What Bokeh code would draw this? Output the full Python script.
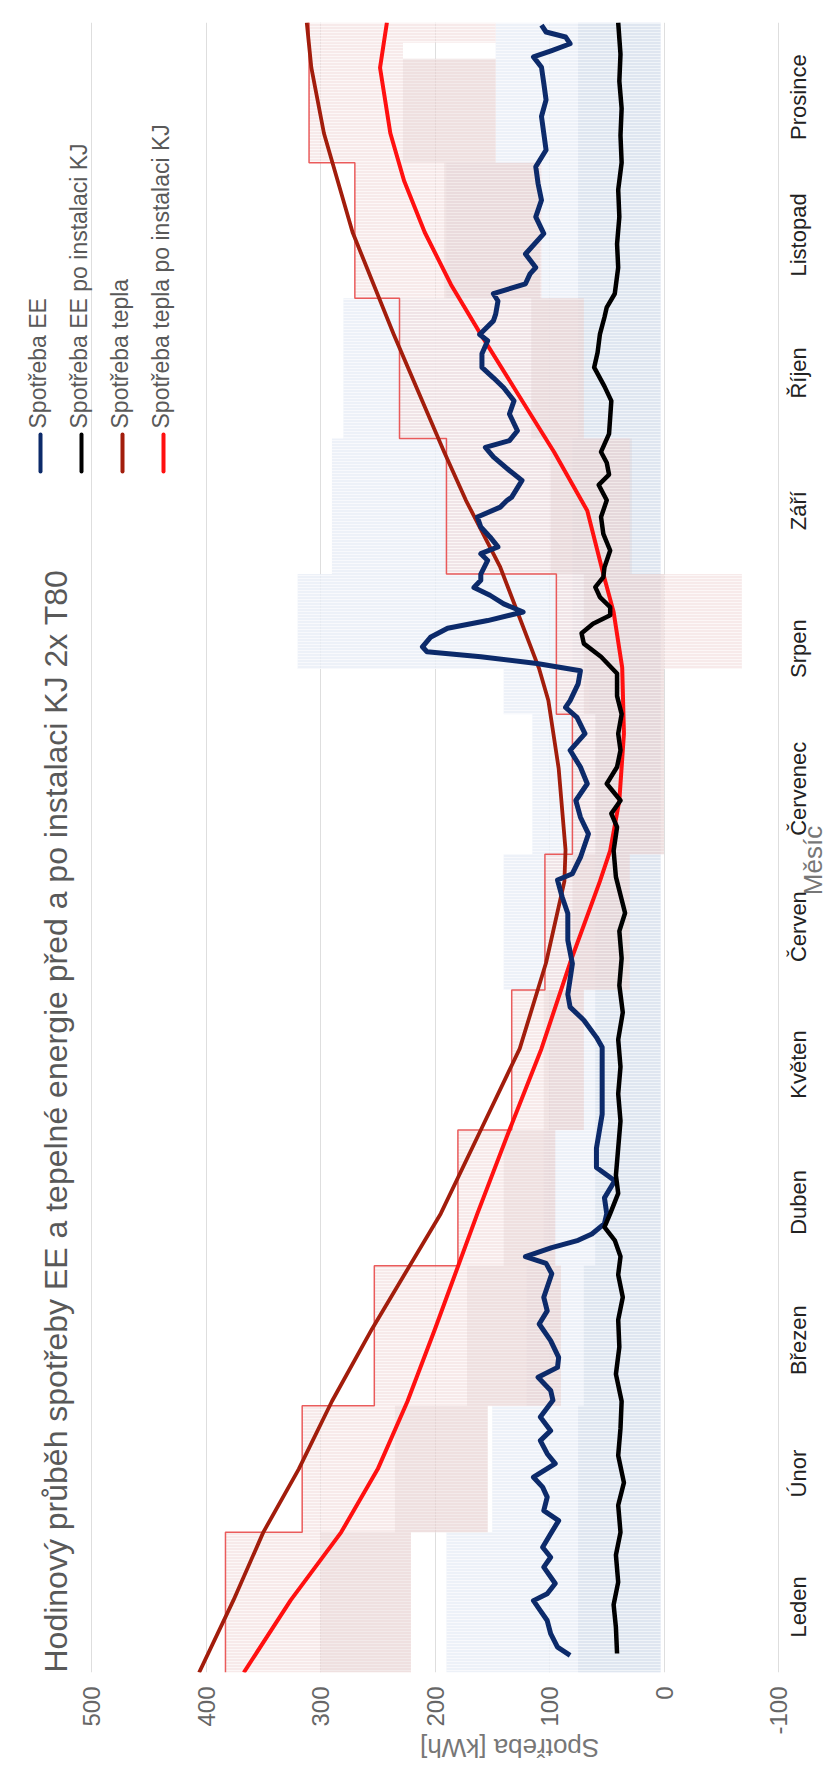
import math
from bokeh.plotting import figure
from bokeh.models import Range1d, FixedTicker, Label
from bokeh.core.properties import value
from bokeh.embed import file_html
from bokeh.resources import INLINE

# ---------------- data ----------------
months = ["Leden", "Únor", "Březen", "Duben", "Květen", "Červen",
          "Červenec", "Srpen", "Září", "Říjen", "Listopad", "Prosince"]
month_days = [31, 28, 31, 30, 31, 30, 31, 31, 30, 31, 30, 31]
value_ticks = [-100, 0, 100, 200, 300, 400, 500]

# monthly heat (thin step line)
heat_monthly = [383, 316, 253, 180, 133, 104, 80, 94, 190, 231, 270, 310]

# hourly heat spread (pink bands), segment start/end day, low/high kWh
heat_seg_start = [0, 31, 59, 90, 120, 151, 181, 212, 222, 243, 273, 304, 334, 357, 360.5]
heat_seg_end = [31, 59, 90, 120, 151, 181, 212, 222, 243, 273, 304, 334, 357, 360.5, 365]
heat_seg_hi = [383, 316, 253, 180, 133, 104, 80, 94, 94, 190, 231, 270, 310, 310, 310]
heat_seg_lo = [221, 154, 90, 95, 70, 30, 0, 0, -68, 30, 70, 107, 147, 228, 147]
heat_after_hi = [300, 235, 172, 140, 105, 80, 60, 70, 70, 99, 116, 192, 228, 228, 147]
heat_after_lo = [221, 154, 90, 95, 70, 30, 0, 0, 0, 28, 70, 108, 147, 228, 147]

# hourly electricity spread (light blue bands)
ee_seg_start = [0, 31, 59, 90, 120, 151, 181, 212, 222, 243, 273, 304, 334]
ee_seg_end = [31, 59, 90, 120, 151, 181, 212, 222, 243, 273, 304, 334, 365]
ee_seg_hi = [190, 150, 120, 105, 100, 140, 115, 140, 320, 290, 280, 190, 147]
ee_core_hi = [75, 75, 70, 60, 60, 60, 60, 65, 80, 80, 75, 75, 75]
ee_core_lo = [3, 3, 3, 3, 3, 3, 3, 3, 3, 3, 3, 3, 3]

# smoothed series (day of year, kWh)
heat_day = [0, 16, 31, 45, 60, 76, 101.5, 120, 138, 157, 175, 182, 200, 215,
            222, 234.6, 244.5, 259.3, 270, 283, 296, 318.6, 340.5, 355, 365]
heat_val = [406, 376, 350, 319, 290, 255, 195, 160, 126, 103, 87, 86, 92, 101,
            109, 128, 143, 173, 192, 214, 236, 272, 297, 308, 312]

heat_kj_day = [0, 16, 31, 45, 60, 76, 101.5, 120, 138, 157, 175, 181.8, 192.9,
               207.7, 222.3, 234.6, 243, 257, 270, 283, 296, 307, 318.6, 330,
               340.5, 355, 365]
heat_kj_val = [367, 326, 282, 250, 224, 200, 163, 135, 107, 82, 56, 47, 39,
               35, 36.5, 44, 53, 67, 96, 128, 160, 186, 209, 227, 239, 248, 242]

ee_day = [3.8, 5.6, 8.6, 11.5, 13.7, 15.9, 17.4, 19.7, 23.3, 25.5, 27.7, 30.7,
          33.6, 35.8, 38.8, 41, 43.2, 46.2, 48.4, 51.3, 53.5, 56.5, 60.2, 62.4,
          65.3, 67.5, 69.7, 73.4, 77.1, 80, 83, 88.2, 90.5, 92, 94, 95.6, 97,
          99.3, 101.5, 105, 108.8, 111.7, 116, 119, 123.5, 130.9, 138.3, 140.5,
          144.3, 147.2, 150, 156.8, 162, 167.9, 171.6, 175.3, 176.7, 180.3,
          185.5, 189.2, 192.9, 196.6, 200.3, 204, 207.7, 211.3, 213.5, 215,
          218.7, 221.6, 223.2, 224.7, 225.8, 226.9, 229, 231, 232.7, 234.6,
          236.4, 238.3, 240, 241.6, 243, 246, 247.5, 249, 251.2, 253.4, 255.6,
          257.8, 259.3, 260, 263.7, 265.9, 268.9, 271, 272.5, 274.7, 278.4,
          281.3, 284.2, 286.4, 288.7, 291.7, 294.6, 296, 299, 300.5, 303.4, 305,
          307.2, 309.4, 310.8, 313.8, 318.3, 322, 325.7, 329.4, 333.1, 336.8,
          340.5, 344.2, 347.9, 351.6, 355.1, 357.4, 358.8, 360.3, 361.8, 362.9,
          364.4]
ee_val = [82, 93, 99, 102, 108, 114, 102, 95, 105, 99, 106, 99,
          92, 105, 102, 106, 114, 95, 102, 108, 99, 108, 97, 99,
          110, 93, 92, 99, 109, 102, 105, 98, 103, 121, 98, 75, 63,
          52, 50, 52, 43, 59, 59, 57, 54, 54, 54, 59,
          70, 82, 84, 80, 84, 84, 89, 93, 80, 73,
          66, 73, 77, 67, 73, 82, 69, 76, 86, 82,
          75, 73, 111, 160, 207, 211, 204, 189, 154, 123,
          140, 152, 166, 160, 160, 154, 160, 145, 152, 160, 163,
          143, 137, 133, 124, 135, 149, 156, 135, 128, 135,
          131, 140, 149, 159, 159, 154, 161, 149, 147, 145, 149,
          121, 117, 112, 121, 105, 112, 107, 110, 112, 103,
          105, 107, 103, 105, 107, 114, 98, 82, 86, 103,
          107]

ee_kj_day = [4.2, 10, 15, 20, 26, 31, 37, 42, 48, 54, 60, 66, 72, 78, 83, 88,
             92, 95.6, 98.5, 101.5, 106, 110, 116, 122, 128, 134, 140, 146, 152,
             158, 164, 168, 172, 176, 181.8, 187, 190, 192.9, 196.6, 200.3, 204,
             207.7, 212, 216, 221, 224.7, 227.6, 229.9, 232, 233.9, 235.7, 237.9,
             240.1, 242.3, 244.5, 248.2, 251.9, 255.6, 259.3, 262.7, 265, 267.6,
             270, 274, 281.3, 284.5, 288.7, 292, 296, 299.8, 302, 305, 310.8, 316,
             322, 328, 334, 340, 346, 352, 358, 365]
ee_kj_val = [41, 42, 44, 40, 42, 38, 40, 35, 40, 38, 37, 42, 39, 40, 36, 40,
             38, 43, 52, 47, 40, 42, 40, 38, 40, 38, 40, 36, 39,
             37, 39, 34, 38, 42, 44, 41, 46, 38, 50, 41, 38,
             40, 37, 41, 41, 55, 70, 72, 62, 47, 47, 56,
             60, 53, 52, 47, 53, 55, 50, 57, 48, 50,
             55, 48, 46, 52, 61, 58, 56, 52, 50, 43, 40, 41,
             39, 40, 37, 38, 37, 39, 38, 40]

legend_names = ["Spotřeba EE", "Spotřeba EE po instalaci KJ",
                "Spotřeba tepla", "Spotřeba tepla po instalaci KJ"]
legend_colors = ["#0c2a6a", "#000000", "#a21d0c", "#ff1010"]
line_widths = [5, 4.5, 3.8, 4]
title_text = "Hodinový průběh spotřeby EE a tepelné energie před a po instalaci KJ 2x T80"
x_title = "Spotřeba [kWh]"
y_title = "Měsíc"

# ---------------- layout geometry ----------------
W, H = 831, 1785
FRAME_L, FRAME_T, FRAME_B = 8, 22, 1672
X_500, X_M100 = 91, 778            # screen x of 500 and -100 kWh
PX_V = (X_M100 - X_500) / 600.0    # pixels per kWh
V_LEFT = -100 + (X_M100 - FRAME_L) / PX_V
V_RIGHT = -100 - (W - X_M100) / PX_V
PX_D = (FRAME_B - FRAME_T) / 365.0  # pixels per day


def vx(sx):
    return -100 + (X_M100 - sx) / PX_V


def dy(sy):
    return (FRAME_B - sy) / PX_D


FONT = "Liberation Sans"

p = figure(width=W, height=H, output_backend="svg", toolbar_location=None,
           x_range=Range1d(V_LEFT, V_RIGHT), y_range=Range1d(0, 365),
           y_axis_location=None,
           min_border_left=FRAME_L, min_border_right=0,
           min_border_top=FRAME_T, min_border_bottom=H - FRAME_B)
p.outline_line_color = None
p.background_fill_color = "white"
p.border_fill_color = "white"

# grid / value axis
p.xgrid.ticker = FixedTicker(ticks=value_ticks)
p.xgrid.grid_line_color = "#dedede"
p.xgrid.grid_line_width = 1
p.ygrid.grid_line_color = None

ax = p.xaxis[0]
ax.ticker = FixedTicker(ticks=value_ticks)
ax.major_label_overrides = {t: str(t) for t in value_ticks}
ax.major_label_orientation = math.pi / 2
ax.major_label_text_font = FONT
ax.major_label_text_font_size = "24px"
ax.major_label_text_color = "#666666"
ax.major_label_standoff = 14
ax.major_tick_out = 0
ax.major_tick_in = 0
ax.axis_line_color = None
ax.major_tick_line_color = None
ax.minor_tick_line_color = None
ax.axis_label = x_title
ax.axis_label_text_font = FONT
ax.axis_label_text_font_size = "26px"
ax.axis_label_text_font_style = "normal"
ax.axis_label_text_color = "#777777"
ax.axis_label_standoff = 10
if "axis_label_orientation" in ax.properties():
    ax.axis_label_orientation = math.pi

# month positions (day of year)
starts = []
acc = 0
for d in month_days:
    starts.append(acc)
    acc += d
month_mid = [s + d / 2.0 - 1.0 for s, d in zip(starts, month_days)]

# ---------------- background bands ----------------
p.quad(left=ee_seg_hi, right=ee_core_lo, bottom=ee_seg_start, top=ee_seg_end,
       fill_color="#e9eef6", fill_alpha=0.8, line_color=None,
       hatch_pattern="horizontal_line", hatch_color="white", hatch_alpha=0.6,
       hatch_scale=3, hatch_weight=1)
p.quad(left=ee_core_hi, right=ee_core_lo, bottom=ee_seg_start, top=ee_seg_end,
       fill_color="#d9e1ee", fill_alpha=0.75, line_color=None,
       hatch_pattern="horizontal_line", hatch_color="white", hatch_alpha=0.5,
       hatch_scale=3, hatch_weight=1)
p.quad(left=heat_seg_hi, right=heat_seg_lo, bottom=heat_seg_start, top=heat_seg_end,
       fill_color="#f2dcdc", fill_alpha=0.6, line_color=None,
       hatch_pattern="horizontal_line", hatch_color="white", hatch_alpha=0.6,
       hatch_scale=3, hatch_weight=1)
p.quad(left=heat_after_hi, right=heat_after_lo, bottom=heat_seg_start, top=heat_seg_end,
       fill_color="#d4b8b8", fill_alpha=0.2, line_color=None)

# monthly step line
step_x, step_y = [], []
for s, d, v in zip(starts, month_days, heat_monthly):
    step_x += [v, v]
    step_y += [s, s + d]
p.line(step_x, step_y, line_color="#e84a4a", line_width=1.5, line_alpha=0.9)

# smoothed lines
p.line(heat_val, heat_day, line_color=legend_colors[2], line_width=line_widths[2], line_join="round")
p.line(heat_kj_val, heat_kj_day, line_color=legend_colors[3], line_width=line_widths[3], line_join="round")
p.line(ee_val, ee_day, line_color=legend_colors[0], line_width=line_widths[0], line_join="round")
p.line(ee_kj_val, ee_kj_day, line_color=legend_colors[1], line_width=line_widths[1], line_join="round")

# month labels (category axis, rotated like the whole chart)
p.text(x=[vx(798)] * len(months), y=month_mid, text=months, angle=math.pi / 2,
       text_align="center", text_baseline="middle", text_font=value(FONT),
       text_font_size="22px", text_color="#222222")
p.text(x=[vx(812)], y=[dy(860)], text=[y_title], angle=math.pi / 2,
       text_align="center", text_baseline="middle", text_font=value(FONT),
       text_font_size="26px", text_color="#777777")

# ---------------- legend (rotated) ----------------
leg_x = [40, 81, 122, 163]
for sx, name, col in zip(leg_x, legend_names, legend_colors):
    p.segment(x0=[vx(sx)], y0=[dy(434)], x1=[vx(sx)], y1=[dy(471)],
              line_color=col, line_width=4, line_cap="round")
    p.add_layout(Label(x=vx(sx - 3), y=dy(428), text=name, angle=math.pi / 2,
                       text_align="left", text_baseline="middle",
                       text_font=FONT, text_font_size="23px", text_color="#595959"))

# ---------------- title ----------------
p.add_layout(Label(x=vx(55), y=0, text=title_text, angle=math.pi / 2,
                   text_align="left", text_baseline="middle",
                   text_font=FONT, text_font_size="32px", text_color="#595959"))

open("out.html", "w").write(file_html(p, INLINE))
